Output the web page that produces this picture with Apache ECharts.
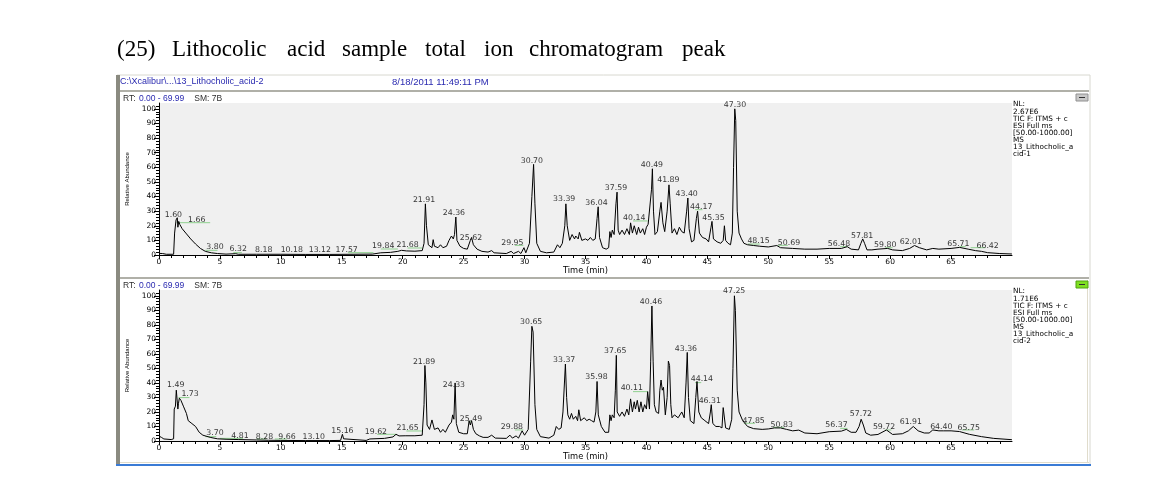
<!DOCTYPE html>
<html>
<head>
<meta charset="utf-8">
<script src="https://cdn.jsdelivr.net/npm/echarts@6/dist/echarts.min.js"></script>
<style>html,body{margin:0;padding:0;background:#fff;}#c{width:1156px;height:484px;}</style>
</head>
<body>
<div id="c"></div>
<script>
// ---------- DATA ----------
const xTicks = [0, 5, 10, 15, 20, 25, 30, 35, 40, 45, 50, 55, 60, 65];
const yTicks = [0, 10, 20, 30, 40, 50, 60, 70, 80, 90, 100];

// Panel 1 (sample 1) TIC trace: [time(min), relative abundance]
const trace1 = [
[0,1.1],[0.3,1.0],[0.6,0.5],[1.2,0.5],[1.28,15],[1.33,14],[1.4,24],[1.5,25.5],[1.55,19],[1.62,23],[1.7,21],
[1.9,18],[2.2,15],[2.6,11],[3.0,7.5],[3.4,4.5],[3.8,2.5],[4.3,1.5],[4.8,1.0],[5.5,0.6],[6.3,0.9],[6.5,0.5],
[8,0.5],[10,0.5],[12,0.4],[14,0.4],[16,0.5],[17.5,0.6],[18.2,1.5],[19,1.8],[19.6,2.5],[19.9,3.2],[20.3,2.8],
[21.0,2.6],[21.6,3.0],[21.75,8],[21.86,35],[21.95,20],[22.1,7],[22.4,5],[22.5,10.5],[22.6,6],[22.9,5],[23.1,7],
[23.3,5],[23.6,6],[23.8,10],[24.0,13],[24.15,11],[24.25,14],[24.36,26],[24.45,10],[24.7,6],[25.0,4.5],[25.3,4],
[25.55,10],[25.65,12],[25.8,7],[26.1,4],[26.5,2.5],[27.0,2],[27.3,3],[27.5,1.5],[28.5,1],[28.9,2.5],[29.1,1],
[29.5,2.5],[29.7,1],[29.95,5],[30.1,1.5],[30.4,8],[30.6,40],[30.74,62],[30.85,35],[31.0,8],[31.3,2.5],[31.8,1.5],
[32.4,2],[32.7,7],[32.9,5],[33.1,8],[33.3,20],[33.39,35],[33.5,20],[33.7,10],[33.9,14],[34.1,11],[34.2,13],
[34.4,11],[34.5,15.5],[34.7,10],[35.0,11],[35.2,10],[35.4,12],[35.6,10],[35.8,11],[35.95,25],[36.04,33],[36.15,12],
[36.4,5],[36.7,4],[36.9,5],[37.0,16],[37.1,12],[37.2,17],[37.35,14],[37.5,35],[37.59,43],[37.68,17],[37.8,14],
[38.0,17],[38.2,14],[38.4,18],[38.6,14],[38.7,22],[38.85,15],[39.0,20],[39.2,14],[39.35,19],[39.5,15],[39.7,18],
[39.85,14],[40.0,19],[40.14,21],[40.3,22],[40.42,45],[40.49,59],[40.58,30],[40.7,14],[40.9,16],[41.1,30],[41.2,36],
[41.35,22],[41.5,16],[41.7,30],[41.85,48],[41.95,35],[42.1,15],[42.3,18],[42.5,14],[42.7,19],[42.9,16],[43.1,15],
[43.3,30],[43.4,39],[43.5,18],[43.7,9],[43.9,10],[44.1,25],[44.2,30],[44.35,15],[44.6,12],[44.9,11],[45.1,9],
[45.3,19],[45.38,23],[45.5,11],[45.8,9],[46.1,8],[46.3,10],[46.4,20],[46.5,10],[46.7,8],[46.9,7],[47.05,15],
[47.15,60],[47.25,100],[47.33,92],[47.45,30],[47.6,15],[47.8,11],[48.0,8],[48.3,7],[48.8,6.5],[49.3,6],[50.0,5.5],
[50.7,6.5],[51.0,5],[52.0,4.5],[53.0,4],[54.0,4],[55.0,4.5],[56.0,4.5],[56.48,5.7],[56.8,4],[57.4,3.5],[57.6,8],
[57.75,11],[57.9,8],[58.1,3.5],[58.5,3.5],[59.0,4],[59.8,4.5],[60.2,3.5],[61.0,3],[61.6,4.5],[62.0,6.5],[62.4,5],
[63.0,3.5],[63.5,4.5],[64.0,4],[65.0,4.5],[65.7,5.2],[66.4,4],[67.0,3],[67.5,2.5],[68.0,1.6],[69.0,1],[69.99,0.7]
];

// Panel 2 (sample 2) TIC trace
const trace2 = [
[0,3.4],[0.2,2.5],[0.4,1.4],[1.0,1.0],[1.2,1.5],[1.25,22],[1.35,24],[1.42,35],[1.49,36],[1.55,22],[1.6,26],
[1.67,29.5],[1.8,28],[2.0,24],[2.25,19],[2.4,14],[2.7,12],[3.0,10],[3.3,6],[3.6,4],[4.2,2.5],[4.8,1.5],[5.5,1.2],
[6.5,1.0],[8.0,0.7],[9.0,0.5],[10,0.4],[12,0.3],[14,0.3],[14.9,0.4],[15.05,4.6],[15.15,1.5],[15.3,0.3],[17.0,0.4],
[17.3,1.4],[18.5,1.8],[19.2,2.8],[19.45,4.6],[19.7,3.5],[20.2,3.6],[21.0,3.6],[21.6,4],[21.75,25],[21.82,52],
[21.9,40],[22.0,11],[22.2,8],[22.4,14.5],[22.5,15.5],[22.6,8],[22.9,9],[23.1,6],[23.3,8],[23.5,6],[23.8,11],
[24.0,13],[24.1,18],[24.2,15],[24.3,40],[24.4,12],[24.6,6],[25.0,5],[25.3,5],[25.45,14],[25.55,11],[25.65,14],
[25.8,8],[26.0,5],[26.3,3.5],[26.6,2.5],[27.0,2.5],[27.3,4],[27.6,2],[28.5,1.8],[28.8,4],[29.0,2],[29.3,3.5],
[29.5,2],[29.8,7],[30.0,4],[30.3,8],[30.5,55],[30.6,79],[30.7,75],[30.85,25],[31.0,8],[31.3,3],[32.0,2],[32.4,4],
[32.6,10],[32.8,8],[33.0,9],[33.15,20],[33.35,53],[33.45,30],[33.55,18],[33.7,15],[33.85,19],[34.0,15],[34.2,17],
[34.35,14],[34.45,21.5],[34.6,14],[34.9,16],[35.1,14],[35.3,15],[35.5,14],[35.7,13],[35.85,20],[35.95,41],
[36.05,18],[36.3,10],[36.6,6],[36.9,6],[37.0,18],[37.1,14],[37.2,18],[37.35,16],[37.45,35],[37.53,59],[37.6,20],
[37.8,17],[38.0,20],[38.2,17],[38.4,22],[38.55,18],[38.7,29],[38.85,20],[39.0,27],[39.1,22],[39.25,28],[39.4,20],
[39.55,27],[39.7,20],[39.85,25],[40.0,22],[40.1,34],[40.25,22],[40.35,55],[40.45,93],[40.55,55],[40.65,25],
[40.8,20],[41.0,19],[41.1,35],[41.2,42],[41.3,35],[41.4,37],[41.55,18],[41.7,30],[41.8,55],[41.9,52],[42.0,25],
[42.1,16],[42.3,18],[42.6,16],[42.9,20],[43.1,16],[43.25,40],[43.35,61],[43.45,30],[43.6,14],[43.9,12],[44.05,30],
[44.15,41],[44.3,20],[44.5,16],[44.8,14],[45.1,12],[45.25,20],[45.32,25],[45.45,12],[45.7,10],[46.0,10],[46.2,9],
[46.3,23],[46.4,23],[46.5,9],[46.8,8],[47.0,15],[47.1,50],[47.22,100],[47.3,90],[47.45,35],[47.6,20],[47.9,14],
[48.3,10],[48.8,8.5],[49.5,8],[50.0,8.3],[50.5,9],[51.0,9],[51.5,8],[52.0,7],[52.5,7.5],[53.0,5.5],[54.0,5],
[55.0,6.4],[56.0,6.8],[56.4,8],[56.8,6],[57.2,6],[57.45,10],[57.62,15],[57.8,11],[58.0,5.5],[58.4,4],[59.0,4.5],
[59.7,7.6],[60.2,4.5],[61.0,5],[61.5,7],[61.9,10],[62.3,7],[62.8,5.5],[63.2,5.5],[63.5,7.6],[64.0,7],[64.4,7],
[65.0,7],[65.7,6.5],[66.5,4.6],[67.5,3],[68.5,1.8],[69.99,0.9]
];

// Peak labels: [label position time, label position abundance, text]
const labels1 = [
[1.18,27.4,'1.60'],[3.1,24.3,'1.66'],[4.6,5.7,'3.80'],[6.5,3.9,'6.32'],[8.6,3.2,'8.18'],[10.9,3.2,'10.18'],
[13.2,3.2,'13.12'],[15.4,3.2,'17.57'],[18.4,6.2,'19.84'],[20.4,6.8,'21.68'],[21.75,37.7,'21.91'],[24.2,28.8,'24.36'],
[25.6,11.9,'25.62'],[29.0,8.4,'29.95'],[30.6,64.6,'30.70'],[33.25,38.1,'33.39'],[35.9,35.8,'36.04'],[37.5,46.1,'37.59'],
[39.0,25.6,'40.14'],[40.45,61.6,'40.49'],[41.8,51.4,'41.89'],[43.3,41.6,'43.40'],[44.5,33.1,'44.17'],[45.5,25.6,'45.35'],
[47.27,102.7,'47.30'],[49.2,9.8,'48.15'],[51.7,8.4,'50.69'],[55.8,7.5,'56.48'],[57.7,13.2,'57.81'],[59.6,6.8,'59.80'],
[61.7,9.1,'62.01'],[65.6,7.5,'65.71'],[68.0,6.4,'66.42']
];
const labels2 = [
[1.37,38.6,'1.49'],[2.55,32.2,'1.73'],[4.6,5.7,'3.70'],[6.65,3.7,'4.81'],[8.65,3.0,'8.28'],[10.5,2.5,'9.66'],
[12.7,2.5,'13.10'],[15.05,7.1,'15.16'],[17.8,6.4,'19.62'],[20.4,8.7,'21.65'],[21.75,54.3,'21.89'],[24.2,38.6,'24.33'],
[25.6,15.2,'25.49'],[28.96,9.4,'29.88'],[30.54,81.8,'30.65'],[33.25,55.9,'33.37'],[35.9,44.4,'35.98'],[37.44,62,'37.65'],
[38.8,36.3,'40.11'],[40.37,95.6,'40.46'],[43.24,63.4,'43.36'],[44.55,42.5,'44.14'],[45.2,27.6,'46.31'],[47.2,103,'47.25'],
[48.8,14,'47.85'],[51.1,11,'50.83'],[55.6,11,'56.37'],[57.6,18.4,'57.72'],[59.5,9.4,'59.72'],[61.7,12.9,'61.91'],
[64.2,9.9,'64.40'],[66.45,9.2,'65.75']
];

// Green label flags: [start time, end time, abundance]
const flags1 = [
[1.45,4.2,22.1],[3.8,4.8,3.2],[6.1,6.8,1.6],[15.5,17.6,1.6],[18.2,19.6,4.1],[20.4,21.6,4.8],[29.2,29.9,6.6],
[38.9,40.1,23.3],[44.0,44.6,31],[48.3,49.3,7.5],[50.8,51.6,6.6],[55.9,56.5,5.7],[59.6,60.2,5],[65.7,66.2,5.7],[66.6,67.8,5.0]
];
const flags2 = [
[1.6,2.5,29.9],[3.8,4.7,3.0],[5.0,6.9,1.8],[8.0,8.8,1.4],[9.5,10.5,1.4],[17.9,19.5,4.6],[20.3,21.6,6.9],
[25.4,25.6,13.3],[29.2,29.9,7.6],[38.9,40.1,34],[44.0,44.5,40.2],[48.0,48.9,12.2],[50.4,51.3,9.4],[55.9,56.5,8.7],
[59.6,60.1,7.6],[65.9,66.9,7.6]
];

const info1 = ['NL:', '2.67E6', 'TIC F: ITMS + c', 'ESI Full ms', '[50.00-1000.00]', 'MS', '13_Lithocholic_a', 'cid-1'];
const info2 = ['NL:', '1.71E6', 'TIC F: ITMS + c', 'ESI Full ms', '[50.00-1000.00]', 'MS', '13_Lithocholic_a', 'cid-2'];

const titleWords = ['(25)', 'Lithocolic', 'acid', 'sample', 'total', 'ion', 'chromatogram', 'peak'];
const headerPath = 'C:\\Xcalibur\\...\\13_Lithocholic_acid-2';
const headerDate = '8/18/2011 11:49:11 PM';

// ---------- CHART ----------
const FONT = 'Liberation Sans, Arial, sans-serif';
const DV = 'DejaVu Sans, sans-serif';
const chart = echarts.init(document.getElementById('c'), null, {renderer: 'canvas'});

const panels = [
  {top: 103, height: 152, trace: trace1, labels: labels1, flags: flags1},
  {top: 290, height: 151, trace: trace2, labels: labels2, flags: flags2}
];

const grids = [], xAxes = [], yAxes = [], series = [];
panels.forEach((p, i) => {
  grids.push({left: 159, width: 853, top: p.top, height: p.height, show: true,
    backgroundColor: '#f0f0f0', borderWidth: 0, containLabel: false});
  xAxes.push({type: 'value', gridIndex: i, min: 0, max: 70, interval: 5,
    name: 'Time (min)', nameLocation: 'middle', nameGap: 11,
    nameTextStyle: {fontFamily: DV, fontSize: 8.3, color: '#000'},
    axisLine: {show: true, lineStyle: {color: '#000', width: 1}},
    axisTick: {show: true, length: 4, lineStyle: {color: '#000'}, customValues: xTicks},
    minorTick: {show: true, splitNumber: 5, length: 3, lineStyle: {color: '#000'}},
    axisLabel: {fontFamily: DV, fontSize: 7.5, color: '#000', margin: 3, customValues: xTicks},
    splitLine: {show: false}});
  yAxes.push({type: 'value', gridIndex: i, min: 0, max: 104, interval: 10,
    name: 'Relative Abundance', nameLocation: 'middle', nameGap: 24, nameRotate: 90,
    nameTextStyle: {fontFamily: FONT, fontSize: 6, color: '#000'},
    axisLine: {show: true, lineStyle: {color: '#000', width: 1}},
    axisTick: {show: true, length: 5, lineStyle: {color: '#000'}, customValues: yTicks},
    minorTick: {show: true, splitNumber: 5, length: 3, lineStyle: {color: '#000'}},
    axisLabel: {fontFamily: DV, fontSize: 7.5, color: '#000', margin: 3, customValues: yTicks},
    splitLine: {show: false}});
  series.push({type: 'line', xAxisIndex: i, yAxisIndex: i, data: p.trace, showSymbol: false,
    symbol: 'none', lineStyle: {color: '#000', width: 1}, animation: false, silent: true, z: 3});
  series.push({type: 'custom', xAxisIndex: i, yAxisIndex: i, data: p.flags, animation: false, silent: true, z: 2,
    encode: {x: [0, 1], y: 2},
    renderItem: function (params, api) {
      const a = api.coord([api.value(0), api.value(2)]);
      const b = api.coord([api.value(1), api.value(2)]);
      return {type: 'line', shape: {x1: a[0], y1: a[1], x2: b[0], y2: b[1]},
        style: {stroke: '#8fd08f', lineWidth: 1}};
    }});
  series.push({type: 'scatter', xAxisIndex: i, yAxisIndex: i, data: p.labels, symbolSize: 1, clip: false,
    itemStyle: {color: 'rgba(0,0,0,0)'}, animation: false, silent: true, z: 4,
    label: {show: true, position: 'inside', formatter: q => q.data[2],
      fontFamily: DV, fontSize: 7.8, color: '#000'}});
});

const graphic = [];
// title: words laid out with justified spacing
const titleLeft = [117, 172, 287, 342, 425, 484, 529, 682];
titleWords.forEach((w, k) => {
  graphic.push({type: 'text', left: titleLeft[k], top: 38,
    style: {text: w, fontFamily: 'Liberation Serif, serif', fontSize: 23, fill: '#000'}});
});
// window frame
graphic.push({type: 'rect', shape: {x: 117, y: 75, width: 973, height: 390}, style: {fill: 'none', stroke: '#d8d8d0', lineWidth: 1}});
graphic.push({type: 'rect', shape: {x: 116, y: 75, width: 4, height: 391}, style: {fill: '#8a8a80'}});
graphic.push({type: 'rect', shape: {x: 120, y: 90, width: 969, height: 2}, style: {fill: '#b0b0a8'}});
graphic.push({type: 'rect', shape: {x: 120, y: 277, width: 969, height: 2}, style: {fill: '#b0b0a8'}});
graphic.push({type: 'rect', shape: {x: 120, y: 462, width: 969, height: 1}, style: {fill: '#e0dccc'}});
graphic.push({type: 'rect', shape: {x: 116, y: 464, width: 975, height: 2}, style: {fill: '#3a7bd5'}});
graphic.push({type: 'rect', shape: {x: 1087, y: 280, width: 1, height: 182}, style: {fill: '#e0dccc'}});
// header
graphic.push({type: 'text', left: 120, top: 77, style: {text: headerPath, fontFamily: FONT, fontSize: 9, fill: '#2a2ab0'}});
graphic.push({type: 'text', left: 392, top: 77, style: {text: headerDate, fontFamily: FONT, fontSize: 9.5, fill: '#2a2ab0'}});
// RT lines + info blocks + icons
[[93, info1], [280, info2]].forEach(([y, info], i) => {
  graphic.push({type: 'text', left: 123, top: y, style: {
    text: '{k|RT:} {b|0.00 - 69.99}   {k|SM: 7B}',
    rich: {k: {fontFamily: FONT, fontSize: 8.5, fill: '#303030'}, b: {fontFamily: FONT, fontSize: 8.5, fill: '#2a2ab0'}}}});
  graphic.push({type: 'text', left: 1013, top: y + 8, style: {text: info.join('\n'), fontFamily: DV,
    fontSize: 7.3, lineHeight: 7.1, fill: '#000'}});
  graphic.push({type: 'rect', shape: {x: 1076, y: y + 1, width: 12, height: 7},
    style: {fill: i === 0 ? '#c8c8c8' : '#7fe020', stroke: i === 0 ? '#909090' : '#50a010', lineWidth: 1}});
  graphic.push({type: 'rect', shape: {x: 1079, y: y + 4, width: 6, height: 1}, style: {fill: '#303030'}});
});

chart.setOption({
  backgroundColor: '#ffffff',
  animation: false,
  grid: grids, xAxis: xAxes, yAxis: yAxes, series: series, graphic: graphic
});
</script>
</body>
</html>
